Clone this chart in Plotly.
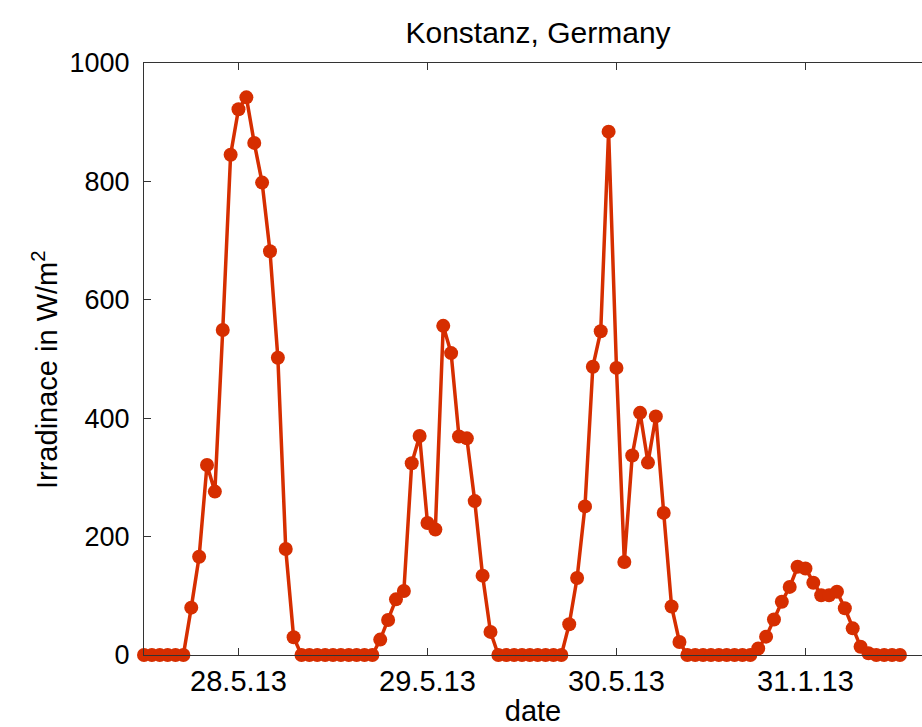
import plotly.graph_objects as go

# hourly index (0 = 28.5.13 00:00)
hours = list(range(97))

irradiance = [
    0, 0, 0, 0, 0, 0, 80, 166, 321, 276, 549, 845, 922, 942, 865, 798, 682, 502, 179, 30,
    0, 0, 0, 0, 0, 0, 0, 0, 0, 0,
    26, 59, 94, 108, 324, 370, 223, 212, 556, 510, 369, 366, 260, 134, 39,
    0, 0, 0, 0, 0, 0, 0, 0, 0,
    52, 130, 251, 487, 547, 884, 485, 157, 337, 409, 325, 403, 240, 82, 22,
    0, 0, 0, 0, 0, 0, 0, 0, 0,
    11, 31, 60, 90, 115, 149, 146, 122, 101, 101, 107, 79, 45, 14, 3,
    0, 0, 0, 0,
]

tick_positions = [12, 36, 60, 84]
tick_labels = ["28.5.13", "29.5.13", "30.5.13", "31.1.13"]
y_ticks = [0, 200, 400, 600, 800, 1000]

color = "#D62E00"
font = "Liberation Sans, Arial, Helvetica, sans-serif"

fig = go.Figure()
fig.add_trace(go.Scatter(
    x=hours, y=irradiance, mode="lines+markers",
    line=dict(color=color, width=3.5),
    marker=dict(color=color, size=14),
    cliponaxis=False, showlegend=False,
))

fig.update_layout(
    width=922, height=727,
    margin=dict(l=144, r=0, t=63, b=72),
    paper_bgcolor="white", plot_bgcolor="white",
    font=dict(family=font, color="black", size=29),
    title=dict(text="Konstanz, Germany", x=538 / 922, xanchor="center",
               y=1 - 32 / 727, yanchor="middle", yref="container",
               font=dict(size=30, family=font, color="black")),
    annotations=[dict(
        text="Irradinace in W/m<sup>2</sup>", textangle=-90,
        xref="paper", yref="paper",
        x=(45 - 144) / 778, y=(655 - 370) / 592,
        xanchor="center", yanchor="middle", showarrow=False,
        font=dict(size=29, family=font, color="black"),
    )],
)

fig.update_xaxes(
    range=[0, 98.8], tickmode="array", tickvals=tick_positions, ticktext=tick_labels,
    ticks="inside", ticklen=7, tickcolor="#333", tickwidth=1,
    showline=True, linecolor="#333", linewidth=1, mirror="ticks",
    showgrid=False, zeroline=False,
    tickfont=dict(size=29, family=font, color="black"),
    title=dict(text="date", font=dict(size=29, family=font, color="black"), standoff=5),
)
fig.update_yaxes(
    range=[0, 1000], tickmode="array", tickvals=y_ticks,
    ticks="inside", ticklen=7, tickcolor="#333", tickwidth=1,
    showline=True, linecolor="#333", linewidth=1,
    showgrid=False, zeroline=False, ticklabelstandoff=8,
    tickfont=dict(size=27, family=font, color="black"),
)

fig.write_html("out.html")
